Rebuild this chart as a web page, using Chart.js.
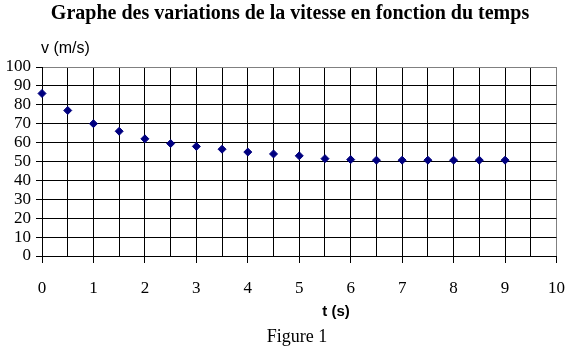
<!DOCTYPE html>
<html>
<head>
<meta charset="utf-8">
<script src="https://cdn.jsdelivr.net/npm/chart.js@4"></script>
<style>
  html, body { margin: 0; padding: 0; background: #fff; }
  #wrap { width: 580px; height: 354px; position: relative; }
</style>
</head>
<body>
<div id="wrap"><canvas id="chart" width="580" height="354"></canvas></div>
<script>
// temps (s) et vitesse (m/s)
const temps = [0, 0.5, 1, 1.5, 2, 2.5, 3, 3.5, 4, 4.5, 5, 5.5, 6, 6.5, 7, 7.5, 8, 8.5, 9];
const vitesse = [86, 77, 70, 66, 62, 59.5, 58, 56.5, 55, 54, 53, 51.5, 51, 50.7, 50.7, 50.7, 50.7, 50.7, 50.7];

const titre = 'Graphe des variations de la vitesse en fonction du temps';
const titreY = 'v (m/s)';
const titreX = 't (s)';
const legende = 'Figure 1';

const textes = {
    id: 'textes',
    afterDraw(chart) {
        const ctx = chart.ctx;
        ctx.save();
        ctx.fillStyle = '#000';
        ctx.textBaseline = 'middle';

        ctx.font = 'bold 20px "Liberation Serif"';
        ctx.textAlign = 'center';
        ctx.fillText(titre, 290, 14);

        ctx.font = '16px "Liberation Sans"';
        ctx.textAlign = 'left';
        ctx.fillText(titreY, 41, 49);

        ctx.font = 'bold 15px "Liberation Sans"';
        ctx.textAlign = 'center';
        ctx.fillText(titreX, 336, 312);

        ctx.font = '18px "Liberation Serif"';
        ctx.fillText(legende, 297, 337);
        ctx.restore();
    }
};

new Chart(document.getElementById('chart'), {
    type: 'scatter',
    data: {
        datasets: [{
            data: temps.map((t, i) => ({ x: t, y: vitesse[i] })),
            pointStyle: 'rectRot',
            pointRadius: 4,
            backgroundColor: '#000080',
            borderColor: '#000080',
            borderWidth: 1,
            clip: false
        }]
    },
    options: {
        responsive: false,
        animation: false,
        layout: { padding: { top: 67, right: 22, left: 0, bottom: 0 } },
        plugins: { legend: { display: false }, tooltip: { enabled: false } },
        scales: {
            x: {
                type: 'linear',
                min: 0, max: 10,
                afterFit: s => { s.height = 98; },
                border: { color: '#000', width: 1 },
                grid: {
                    color: c => c.tick && c.tick.value === 10 ? '#808080' : '#000',
                    tickColor: c => c.tick && Number.isInteger(c.tick.value) ? '#000' : 'rgba(0,0,0,0)',
                    tickLength: 7,
                    lineWidth: 1
                },
                ticks: {
                    stepSize: 0.5,
                    autoSkip: false,
                    maxRotation: 0,
                    padding: 15,
                    color: '#000',
                    font: { family: '"Liberation Serif"', size: 17 },
                    callback: v => Number.isInteger(v) ? v : ''
                }
            },
            y: {
                min: 0, max: 100,
                afterFit: s => { s.width = 42; },
                border: { color: '#000', width: 1 },
                grid: {
                    color: c => c.tick && c.tick.value === 100 ? '#808080' : '#000',
                    tickColor: '#000',
                    tickLength: 6,
                    lineWidth: 1
                },
                ticks: {
                    stepSize: 10,
                    autoSkip: false,
                    padding: 5,
                    color: '#000',
                    font: { family: '"Liberation Serif"', size: 17 }
                }
            }
        }
    },
    plugins: [textes]
});
</script>
</body>
</html>
